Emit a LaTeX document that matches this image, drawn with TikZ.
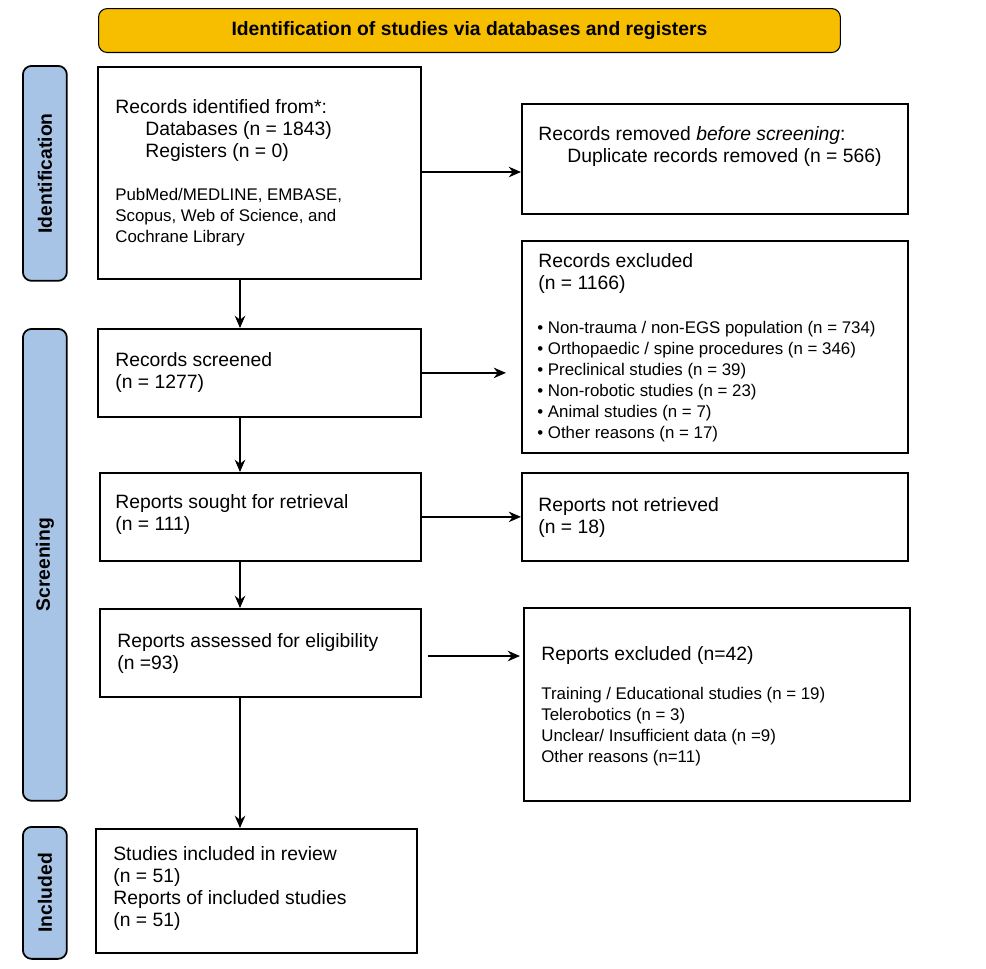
\documentclass[tikz,border=0pt]{standalone}
\usepackage{fontspec}
\setmainfont{Liberation Sans}
\usetikzlibrary{arrows.meta}
\definecolor{headorange}{HTML}{F7BE00}
\definecolor{sideblue}{HTML}{A7C4E6}
\tikzset{
  box/.style={draw,line width=1pt,anchor=north west,inner sep=0pt},
  side/.style={draw,line width=1pt,fill=sideblue,rounded corners=5pt,anchor=north west,inner sep=0pt},
  txt/.style={anchor=north west,inner sep=0pt,align=left,font=\fontsize{11}{12.6}\selectfont},
  small/.style={anchor=north west,inner sep=0pt,align=left,font=\fontsize{9.6}{11.9}\selectfont},
  arr/.style={-{Stealth[length=7pt,width=6pt]},line width=0.8pt}
}
\begin{document}
\begin{tikzpicture}[x=0.02cm,y=-0.02cm]
\useasboundingbox (0,0) rectangle (986,968);
% header
\node[draw,line width=0.6pt,fill=headorange,rounded corners=5pt,anchor=north west,minimum width=14.84cm,minimum height=0.88cm,font=\fontsize{11}{12}\selectfont\bfseries] (head) at (98,8) {Identification of studies via databases and registers};
% side labels
\node[side,minimum width=0.88cm,minimum height=4.3cm] (sid) at (22,65) {};
\node[rotate=90,font=\fontsize{11}{12}\selectfont\bfseries] (sidt) at (sid.center) {Identification};
\node[side,minimum width=0.88cm,minimum height=9.44cm] (sscr) at (22,328) {};
\node[rotate=90,font=\fontsize{11}{12}\selectfont\bfseries] (sscrt) at (sscr.center) {Screening};
\node[side,minimum width=0.88cm,minimum height=2.64cm] (sinc) at (22,826) {};
\node[rotate=90,font=\fontsize{11}{12}\selectfont\bfseries] (sinct) at (sinc.center) {Included};
% boxes
\node[box,minimum width=6.46cm,minimum height=4.24cm] (ident) at (97,66) {};
\node[box,minimum width=7.72cm,minimum height=2.2cm] (removed) at (521,103) {};
\node[box,minimum width=7.72cm,minimum height=4.24cm] (excl) at (521,240) {};
\node[box,minimum width=6.46cm,minimum height=1.76cm] (screened) at (97,328) {};
\node[box,minimum width=6.42cm,minimum height=1.76cm] (sought) at (99,472) {};
\node[box,minimum width=7.72cm,minimum height=1.76cm] (notret) at (521,472) {};
\node[box,minimum width=6.42cm,minimum height=1.76cm] (assessed) at (99,608) {};
\node[box,minimum width=7.72cm,minimum height=3.86cm] (exclrep) at (523,607) {};
\node[box,minimum width=6.42cm,minimum height=2.48cm] (incl) at (95,828) {};
% texts
\node[txt] (identt) at (115,99) {Records identified from*:\\\hspace{0.6cm}Databases (n = 1843)\\\hspace{0.6cm}Registers (n = 0)};
\node[small] (identdb) at (115,188) {PubMed/MEDLINE, EMBASE,\\Scopus, Web of Science, and\\Cochrane Library};
\node[txt] (removedt) at (538,126) {Records removed \emph{before screening}:\\\hspace{0.58cm}Duplicate records removed (n = 566)};
\node[txt] (exclt) at (538,253) {Records excluded\\(n = 1166)};
\node[small] (exclb) at (537,321) {\textbullet\ Non-trauma / non-EGS population (n = 734)\\\textbullet\ Orthopaedic / spine procedures (n = 346)\\\textbullet\ Preclinical studies (n = 39)\\\textbullet\ Non-robotic studies (n = 23)\\\textbullet\ Animal studies (n = 7)\\\textbullet\ Other reasons (n = 17)};
\node[txt] (screenedt) at (115,352) {Records screened\\(n = 1277)};
\node[txt] (soughtt) at (115,494) {Reports sought for retrieval\\(n = 111)};
\node[txt] (notrett) at (538,497) {Reports not retrieved\\(n = 18)};
\node[txt] (assessedt) at (117,633) {Reports assessed for eligibility\\(n =93)};
\node[txt] (exclrept) at (541,646) {Reports excluded (n=42)};
\node[small] (exclrepb) at (541,687) {Training / Educational studies (n = 19)\\Telerobotics (n = 3)\\Unclear/ Insufficient data (n =9)\\Other reasons (n=11)};
\node[txt] (inclt) at (113,846) {Studies included in review\\(n = 51)\\Reports of included studies\\(n = 51)};
% arrows
\draw[arr] (ident.south -| 240,0) -- (screened.north -| 240,0);
\draw[arr] (screened.south -| 240,0) -- (sought.north -| 240,0);
\draw[arr] (sought.south -| 240,0) -- (assessed.north -| 240,0);
\draw[arr] (assessed.south -| 240,0) -- (incl.north -| 240,0);
\draw[arr] (ident.east |- 0,172) -- (removed.west |- 0,172);
\draw[arr] (screened.east) -- ([xshift=-0.3cm]excl.west |- screened.east);
\draw[arr] (sought.east) -- (notret.west);
\draw[arr] ([xshift=0.12cm]assessed.east |- 0,656) -- ([xshift=-0.06cm]exclrep.west |- 0,656);
\end{tikzpicture}
\end{document}
